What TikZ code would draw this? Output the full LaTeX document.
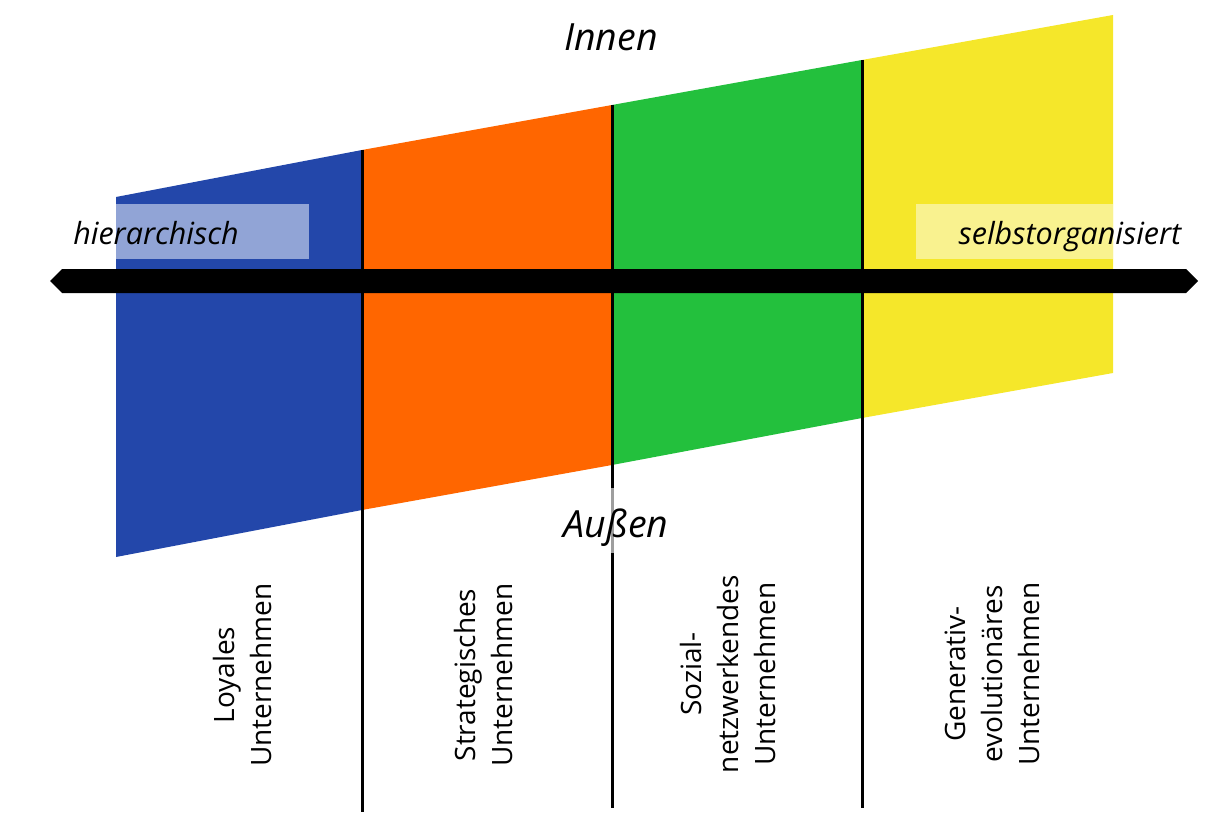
\documentclass[tikz,border=0pt]{standalone}
\usepackage{fontspec}
\setmainfont{Open Sans}
\definecolor{cblue}{HTML}{2347AA}
\definecolor{corange}{HTML}{FF6600}
\definecolor{cgreen}{HTML}{23C03D}
\definecolor{cyellow}{HTML}{F5E72A}
\definecolor{cblueL}{HTML}{91A4D6}
\definecolor{cyellowL}{HTML}{F9F28F}
\begin{document}
\begin{tikzpicture}[x=1pt,y=-1pt,
  sep/.style={line width=3pt,black},
  itlabel/.style={font=\fontsize{30.5}{36}\selectfont\itshape,inner sep=0pt,anchor=base},
  biglabel/.style={font=\fontsize{37.5}{44}\selectfont\itshape,inner sep=0pt,anchor=base},
  typelabel/.style={font=\fontsize{28}{37}\selectfont,rotate=90,align=center,inner sep=0pt}]
\useasboundingbox (0,0) rectangle (1226,813);
% bands
\fill[cblue] (116,197) -- (362,150) -- (362,510) -- (116,557) -- cycle;
\fill[corange] (362,150) -- (612,105) -- (612,465) -- (362,510) -- cycle;
\fill[cgreen] (612,105) -- (862,60) -- (862,418) -- (612,465) -- cycle;
\fill[cyellow] (862,60) -- (1113,15) -- (1113,373) -- (862,418) -- cycle;
% light boxes
\fill[cblueL] (116,204) rectangle (309,259);
\fill[cyellowL] (916,204) rectangle (1113,259);
% separators
\coordinate (s1t) at (362,150); \coordinate (s1b) at (362,812);
\coordinate (s2t) at (612,105); \coordinate (s2b) at (612,808);
\coordinate (s3t) at (862,60);  \coordinate (s3b) at (862,808);
\draw[sep] (s1t) -- (s1b);
\draw[sep] (s2t) -- (s2b);
\draw[sep] (s3t) -- (s3b);
\coordinate (g1) at (612,488); \coordinate (g2) at (612,553);
\draw[line width=3pt,black!38] (g1) -- (g2);
% axis
\fill[black] (50,281) -- (62,269) -- (1186,269) -- (1198,281) -- (1186,293) -- (62,293) -- cycle;
% texts
\node[biglabel] (innen) at (611,51) {Innen};
\node[biglabel] (aussen) at (616,537) {Außen};
\node[itlabel] (hier) at (156,244) {hierarchisch};
\node[itlabel] (selbst) at (1070,244) {selbstorganisiert};
\node[typelabel] (loy) at (242,675) {Loyales\\Unternehmen};
\node[typelabel] (str) at (483,675) {Strategisches\\Unternehmen};
\node[typelabel] (soz) at (728,674) {Sozial-\\netzwerkendes\\Unternehmen};
\node[typelabel] (gen) at (992,674) {Generativ-\\evolutionäres\\Unternehmen};
\end{tikzpicture}
\end{document}
